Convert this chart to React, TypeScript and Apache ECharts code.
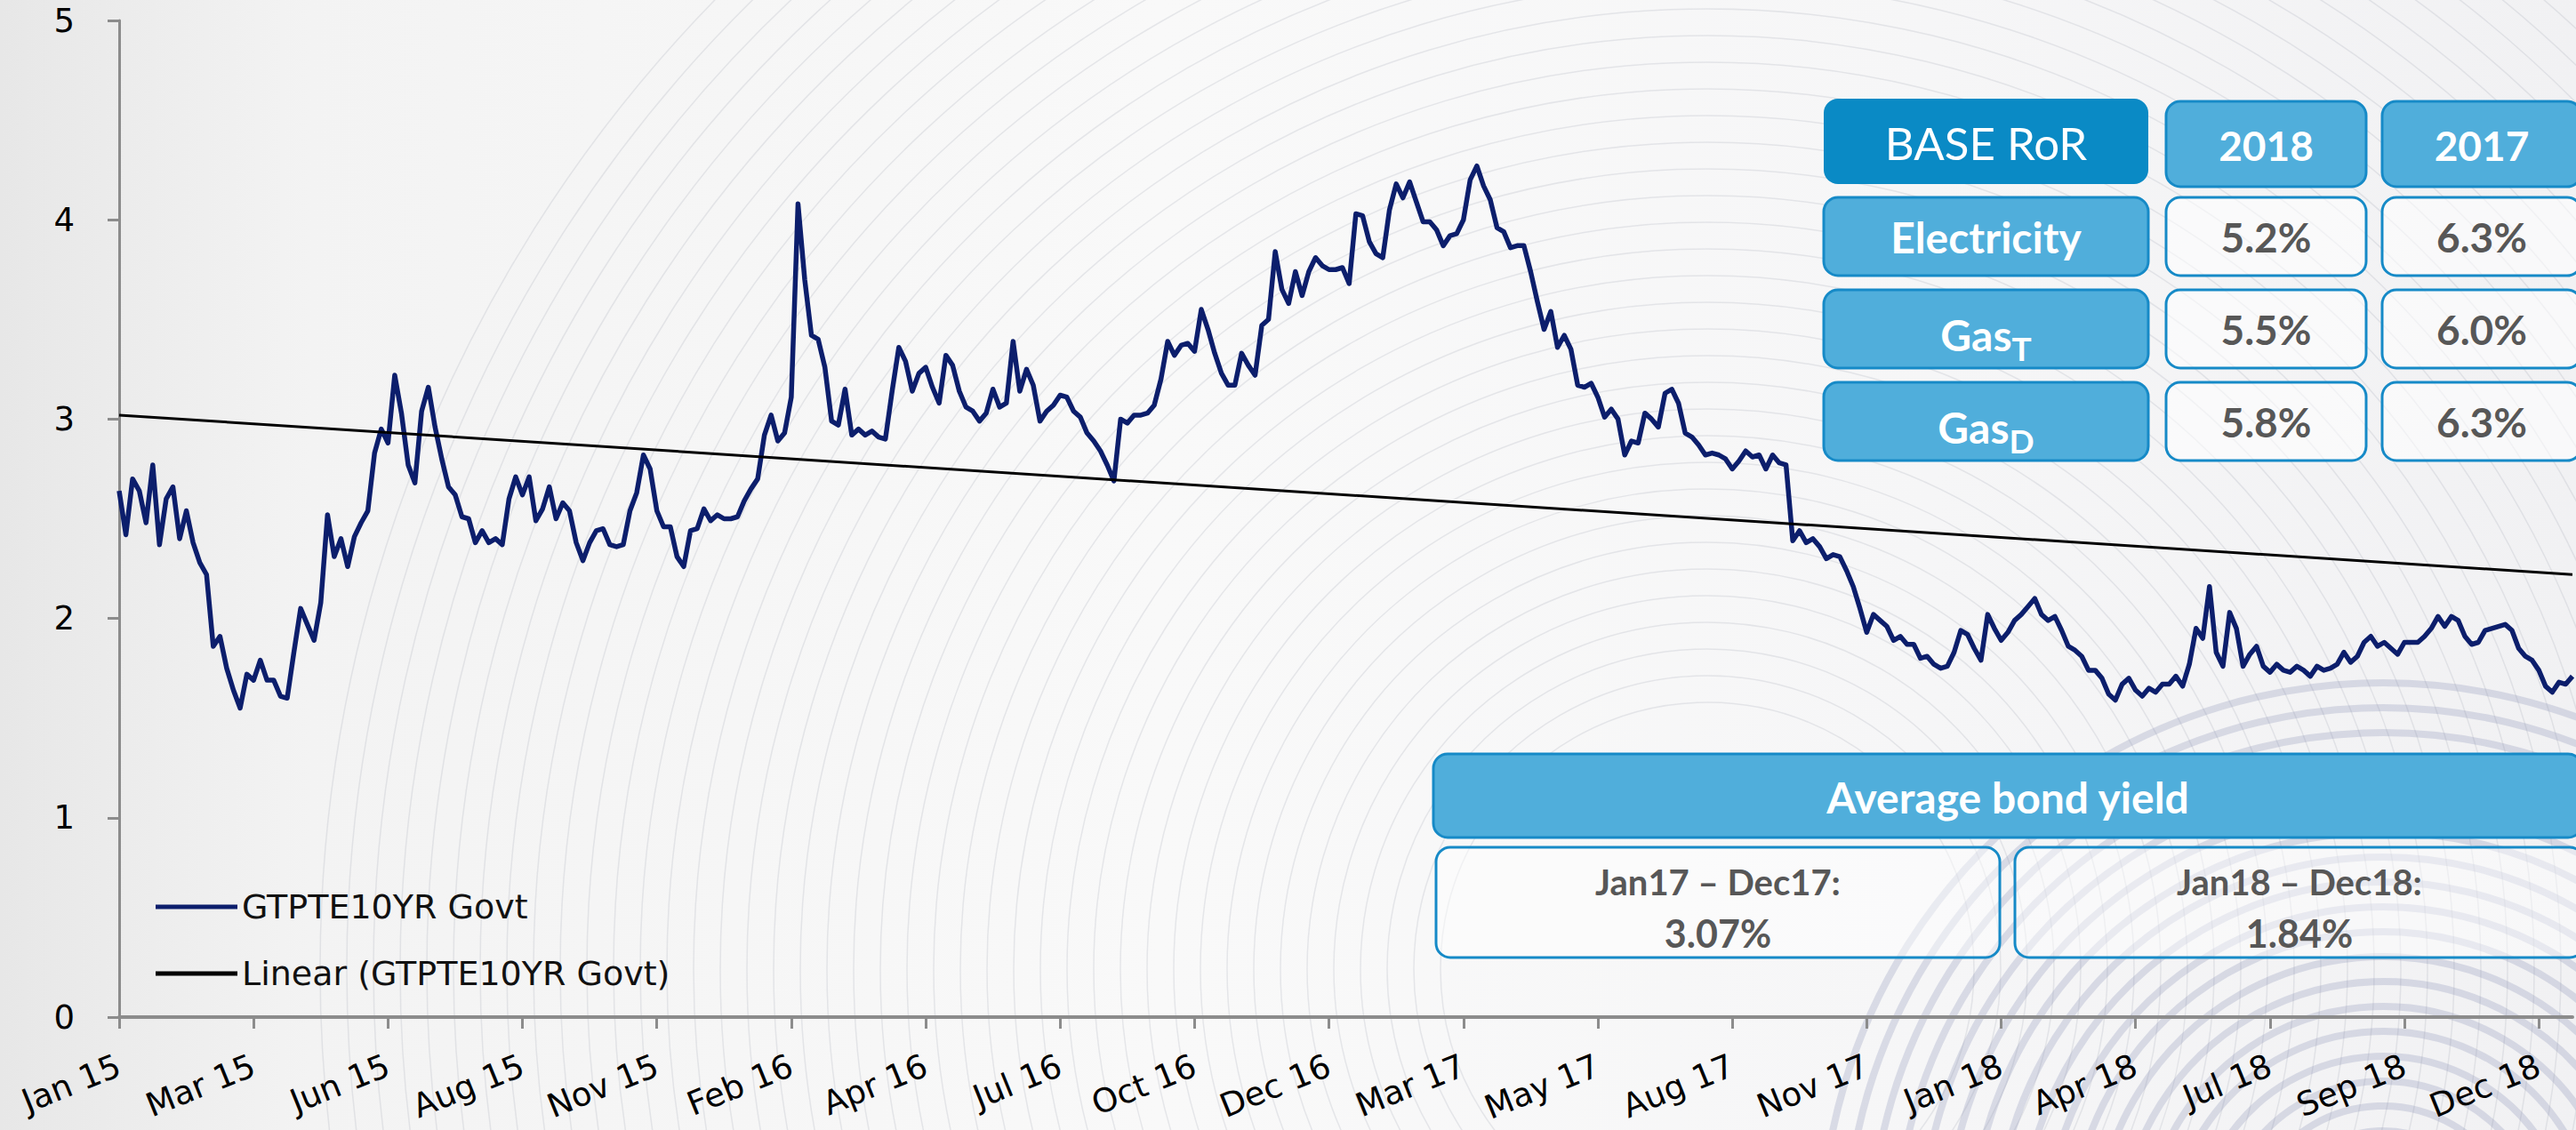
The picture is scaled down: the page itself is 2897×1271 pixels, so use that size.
import React, { useEffect, useRef } from 'react';
import * as echarts from 'echarts';

// ---------- DATA ----------
const tickLabels = [
  'Jan 15', 'Mar 15', 'Jun 15', 'Aug 15', 'Nov 15', 'Feb 16', 'Apr 16', 'Jul 16', 'Oct 16', 'Dec 16',
  'Mar 17', 'May 17', 'Aug 17', 'Nov 17', 'Jan 18', 'Apr 18', 'Jul 18', 'Sep 18', 'Dec 18',
];
const pointsPerTick = 20;

// GTPTE10YR Govt yield (%) (20 readings per labelled interval)
const yields = [
  2.64, 2.42, 2.70, 2.64, 2.48, 2.77, 2.37, 2.60, 2.66, 2.40,
  2.54, 2.38, 2.28, 2.22, 1.86, 1.91, 1.75, 1.64, 1.55, 1.72,
  1.69, 1.79, 1.69, 1.69, 1.61, 1.60, 1.83, 2.05, 1.97, 1.89,
  2.08, 2.52, 2.31, 2.40, 2.26, 2.41, 2.48, 2.54, 2.83, 2.95,
  2.88, 3.22, 3.03, 2.77, 2.68, 3.04, 3.16, 2.96, 2.80, 2.66,
  2.62, 2.51, 2.50, 2.38, 2.44, 2.38, 2.40, 2.37, 2.60, 2.71,
  2.62, 2.71, 2.49, 2.55, 2.66, 2.50, 2.58, 2.54, 2.38, 2.29,
  2.38, 2.44, 2.45, 2.37, 2.36, 2.37, 2.54, 2.63, 2.82, 2.75,
  2.54, 2.46, 2.46, 2.31, 2.26, 2.44, 2.45, 2.55, 2.49, 2.52,
  2.50, 2.50, 2.51, 2.59, 2.65, 2.70, 2.92, 3.02, 2.89, 2.93,
  3.11, 4.08, 3.70, 3.42, 3.40, 3.26, 2.99, 2.97, 3.15, 2.92,
  2.95, 2.92, 2.94, 2.91, 2.90, 3.14, 3.36, 3.29, 3.14, 3.23,
  3.26, 3.16, 3.08, 3.32, 3.27, 3.14, 3.06, 3.04, 2.99, 3.03,
  3.15, 3.06, 3.08, 3.39, 3.14, 3.25, 3.17, 2.99, 3.04, 3.07,
  3.12, 3.11, 3.04, 3.01, 2.93, 2.89, 2.84, 2.77, 2.69, 3.00,
  2.98, 3.02, 3.02, 3.03, 3.07, 3.20, 3.39, 3.32, 3.37, 3.38,
  3.34, 3.55, 3.45, 3.33, 3.23, 3.17, 3.17, 3.33, 3.27, 3.22,
  3.47, 3.50, 3.84, 3.65, 3.58, 3.74, 3.62, 3.74, 3.81, 3.77,
  3.75, 3.75, 3.76, 3.68, 4.03, 4.02, 3.89, 3.83, 3.81, 4.05,
  4.18, 4.11, 4.19, 4.09, 3.99, 3.99, 3.95, 3.87, 3.92, 3.93,
  4.00, 4.20, 4.27, 4.17, 4.10, 3.96, 3.94, 3.86, 3.87, 3.87,
  3.74, 3.59, 3.45, 3.54, 3.36, 3.42, 3.35, 3.17, 3.16, 3.18,
  3.11, 3.01, 3.05, 3.00, 2.82, 2.89, 2.88, 3.03, 3.00, 2.96,
  3.13, 3.15, 3.08, 2.93, 2.91, 2.87, 2.82, 2.83, 2.82, 2.80,
  2.75, 2.79, 2.84, 2.81, 2.82, 2.75, 2.82, 2.78, 2.77, 2.39,
  2.44, 2.38, 2.40, 2.36, 2.30, 2.32, 2.31, 2.24, 2.16, 2.05,
  1.93, 2.02, 1.99, 1.96, 1.89, 1.91, 1.87, 1.87, 1.80, 1.81,
  1.77, 1.75, 1.76, 1.83, 1.94, 1.92, 1.85, 1.79, 2.02, 1.95,
  1.89, 1.93, 1.99, 2.02, 2.06, 2.10, 2.02, 1.99, 2.01, 1.94,
  1.86, 1.84, 1.81, 1.74, 1.74, 1.70, 1.62, 1.59, 1.67, 1.70,
  1.64, 1.61, 1.65, 1.63, 1.67, 1.67, 1.71, 1.66, 1.77, 1.95,
  1.90, 2.16, 1.83, 1.76, 2.03, 1.95, 1.76, 1.82, 1.86, 1.76,
  1.73, 1.77, 1.74, 1.73, 1.76, 1.74, 1.71, 1.76, 1.74, 1.75,
  1.77, 1.83, 1.78, 1.81, 1.88, 1.91, 1.86, 1.88, 1.85, 1.82,
  1.88, 1.88, 1.88, 1.91, 1.95, 2.01, 1.96, 2.01, 1.99, 1.91,
  1.87, 1.88, 1.94, 1.95, 1.96, 1.97, 1.94, 1.85, 1.81, 1.79,
  1.74, 1.66, 1.63, 1.68, 1.67, 1.71,
];

// Linear trend end points
const trendStart = 3.02;
const trendEnd = 2.22;

const yMin = 0;
const yMax = 5;
const yInterval = 1;

const seriesNames = ['GTPTE10YR Govt', 'Linear (GTPTE10YR Govt)'];

// BASE RoR table
const rorHeader = ['BASE RoR', '2018', '2017'];
const rorLabels = ['Electricity', 'Gas', 'Gas'];
const rorSubs = ['', 'T', 'D'];
const ror2018 = ['5.2%', '5.5%', '5.8%'];
const ror2017 = ['6.3%', '6.0%', '6.3%'];

// Average bond yield
const bondHeader = 'Average bond yield';
const bondPeriods = ['Jan17 \u2013 Dec17:', 'Jan18 \u2013 Dec18:'];
const bondValues = ['3.07%', '1.84%'];

// ---------- STYLE ----------
const W = 2897;
const H = 1271;
const AXIS_FONT = "'DejaVu Sans', Verdana, sans-serif";
const BOX_FONT = "Lato, 'Open Sans', sans-serif";
const NAVY = '#0c1e6c';
const BLUE_DARK = '#0a8ac5';
const BLUE = '#50aedb';
const BORDER = '#168ac7';
const GREY = '#575757';
const AXIS_GREY = '#8c8c8c';

function rect(x: number, y: number, w: number, h: number, fill: string, stroke: string | null) {
  return {
    type: 'rect',
    z: 20,
    silent: true,
    shape: { x, y, width: w, height: h, r: 16 },
    style: { fill, stroke: stroke || 'none', lineWidth: 3 },
  };
}

function txt(x: number, y: number, text: string, size: number, color: string, weight = 'bold') {
  return {
    type: 'text',
    z: 21,
    silent: true,
    x,
    y,
    style: {
      text,
      fill: color,
      fontSize: size,
      fontWeight: weight,
      fontFamily: BOX_FONT,
      align: 'center',
      verticalAlign: 'middle',
      textAlign: 'center',
      textVerticalAlign: 'middle',
    },
  };
}

function subTxt(x: number, y: number, main: string, sub: string) {
  return {
    type: 'text',
    z: 21,
    silent: true,
    x,
    y,
    style: {
      text: `{m|${main}}{s|${sub}}`,
      align: 'center',
      verticalAlign: 'middle',
      textAlign: 'center',
      textVerticalAlign: 'middle',
      rich: {
        m: { fontSize: 48, fontWeight: 'bold', fontFamily: BOX_FONT, fill: '#ffffff', lineHeight: 50, verticalAlign: 'top' },
        s: {
          fontSize: 37,
          fontWeight: 'bold',
          fontFamily: BOX_FONT,
          fill: '#ffffff',
          lineHeight: 40,
          padding: [21, 0, 0, 0],
          verticalAlign: 'top',
        },
      },
    },
  };
}

function buildGraphics() {
  const els: any[] = [];
  // decorative background arcs
  for (let r = 300; r <= 1560; r += 30) {
    els.push({
      type: 'circle',
      z: 0,
      silent: true,
      shape: { cx: 1920, cy: 1090, r },
      style: { fill: 'none', stroke: 'rgba(160,162,178,0.22)', lineWidth: 1.5 },
    });
  }
  for (let r = 100; r <= 640; r += 28) {
    els.push({
      type: 'circle',
      z: 0,
      silent: true,
      shape: { cx: 2680, cy: 1400, r },
      style: { fill: 'none', stroke: 'rgba(130,138,178,0.26)', lineWidth: 8 },
    });
  }

  // BASE RoR table
  const colX = [2051, 2436, 2679];
  const colW = [365, 225, 224];
  els.push(rect(colX[0], 111, colW[0], 96, BLUE_DARK, null));
  els.push(txt(colX[0] + colW[0] / 2, 160, rorHeader[0], 51, '#ffffff', 'normal'));
  for (let c = 1; c < 3; c++) {
    els.push(rect(colX[c], 114, colW[c], 96, BLUE, BORDER));
    els.push(txt(colX[c] + colW[c] / 2, 163, rorHeader[c], 46, '#ffffff'));
  }
  rorLabels.forEach((lab, i) => {
    const y = 222 + i * 104;
    const h = 88;
    const cy = y + h / 2;
    els.push(rect(colX[0], y, colW[0], h, BLUE, BORDER));
    if (rorSubs[i]) {
      els.push(subTxt(colX[0] + colW[0] / 2, cy + 7, lab, rorSubs[i]));
    } else {
      els.push(txt(colX[0] + colW[0] / 2, cy, lab, 48, '#ffffff'));
    }
    els.push(rect(colX[1], y, colW[1], h, 'rgba(255,255,255,0.55)', BORDER));
    els.push(txt(colX[1] + colW[1] / 2, cy, ror2018[i], 46, GREY));
    els.push(rect(colX[2], y, colW[2], h, 'rgba(255,255,255,0.55)', BORDER));
    els.push(txt(colX[2] + colW[2] / 2, cy, ror2017[i], 46, GREY));
  });

  // Average bond yield
  els.push(rect(1612, 848, 1292, 94, BLUE, BORDER));
  els.push(txt(2258, 896, bondHeader, 48, '#ffffff'));
  const bx = [1615, 2266];
  const bw = [634, 640];
  bondPeriods.forEach((p, i) => {
    els.push(rect(bx[i], 953, bw[i], 124, 'rgba(255,255,255,0.45)', BORDER));
    els.push(txt(bx[i] + bw[i] / 2, 992, p, 40, GREY));
    els.push(txt(bx[i] + bw[i] / 2, 1049, bondValues[i], 43, GREY));
  });
  return els;
}

export default function App() {
  const ref = useRef<HTMLDivElement>(null);

  useEffect(() => {
    if (!ref.current) return;
    const chart = echarts.init(ref.current, undefined, { renderer: 'svg', width: W, height: H });

    const categories = yields.map((_, i) =>
      i % pointsPerTick === 0 && tickLabels[i / pointsPerTick] ? tickLabels[i / pointsPerTick] : 'p' + i
    );
    const trendData = yields.map((_, i) =>
      i === 0 ? trendStart : i === yields.length - 1 ? trendEnd : null
    );
    const showTick = (i: number) => i % pointsPerTick === 0;

    chart.setOption({
      animation: false,
      backgroundColor: 'transparent',
      textStyle: { fontFamily: AXIS_FONT },
      grid: { left: 134, right: 4, top: 23, bottom: 127, containLabel: false },
      legend: {
        left: 170,
        top: 993,
        orient: 'vertical',
        itemWidth: 92,
        itemHeight: 5,
        itemGap: 31,
        selectedMode: false,
        textStyle: { fontSize: 38, color: '#111111', fontFamily: AXIS_FONT, lineHeight: 44 },
        data: [
          { name: seriesNames[0], icon: 'rect' },
          { name: seriesNames[1], icon: 'rect' },
        ],
      },
      xAxis: {
        type: 'category',
        data: categories,
        boundaryGap: false,
        axisLine: { lineStyle: { color: AXIS_GREY, width: 4 } },
        axisTick: { show: true, interval: showTick, length: 13, lineStyle: { color: AXIS_GREY, width: 3 } },
        axisLabel: {
          interval: showTick,
          rotate: 22,
          margin: 53,
          fontSize: 37,
          color: '#000000',
          fontFamily: AXIS_FONT,
        },
        splitLine: { show: false },
      },
      yAxis: {
        type: 'value',
        min: yMin,
        max: yMax,
        interval: yInterval,
        axisLine: { show: true, lineStyle: { color: AXIS_GREY, width: 3 } },
        axisTick: { show: true, length: 13, lineStyle: { color: AXIS_GREY, width: 3 } },
        axisLabel: { fontSize: 37, color: '#000000', margin: 50, fontFamily: AXIS_FONT },
        splitLine: { show: false },
      },
      series: [
        {
          name: seriesNames[0],
          type: 'line',
          data: yields,
          symbol: 'none',
          showSymbol: false,
          z: 5,
          lineStyle: { color: NAVY, width: 5.5, join: 'round' },
          itemStyle: { color: NAVY },
        },
        {
          name: seriesNames[1],
          type: 'line',
          data: trendData,
          connectNulls: true,
          symbol: 'none',
          showSymbol: false,
          z: 6,
          lineStyle: { color: '#000000', width: 3 },
          itemStyle: { color: '#000000' },
        },
      ],
      graphic: { elements: buildGraphics() },
    });

    return () => chart.dispose();
  }, []);

  return (
    <div
      style={{
        position: 'fixed',
        left: 0,
        top: 0,
        width: W,
        height: H,
        background: 'linear-gradient(90deg, #e7e7e7 0%, #f3f3f3 12%, #f9f9f9 45%, #f6f6f7 75%, #f1f1f3 100%)',
      }}
    >
      <div ref={ref} style={{ width: W, height: H }} />
    </div>
  );
}
